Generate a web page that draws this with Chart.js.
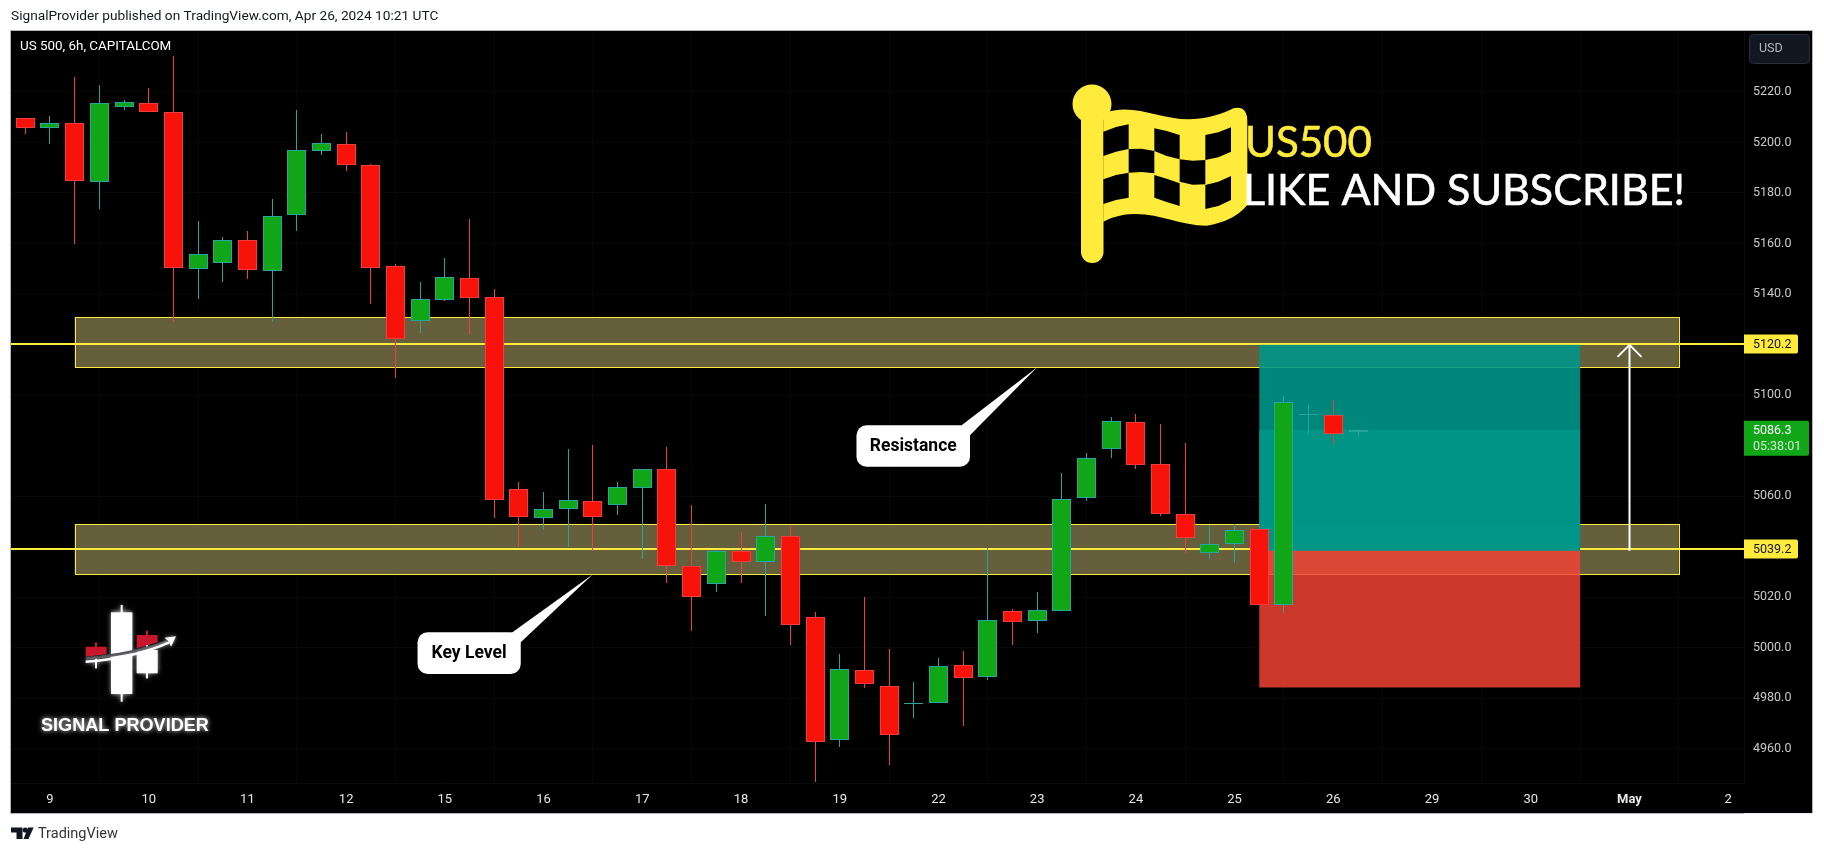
<!DOCTYPE html>
<html>
<head>
<meta charset="utf-8">
<title>US 500, 6h</title>
<script src="https://cdn.jsdelivr.net/npm/chart.js@4"></script>
<style>
  html, body { margin: 0; padding: 0; background: #fff; }
  canvas { display: block; }
</style>
</head>
<body>
<canvas id="chart" width="1824" height="853"></canvas>
<script>
// candles, index 0 = first bar on the left
const opens  = [5209.6,5205.9,5207.6,5184.5,5214.2,5215.5,5212.0,5150.1,5152.1,5161.3,5149.3,5171.1,5196.8,5199.3,5191.0,5151.0,5129.5,5137.8,5146.3,5138.8,
                5062.8,5051.2,5055.1,5058.0,5056.7,5063.4,5070.7,5032.3,5025.2,5038.2,5033.8,5044.2,5012.1,4963.7,4991.1,4984.8,4977.9,4978.0,4993.1,4988.6,
                5014.5,5010.8,5014.4,5059.1,5078.5,5089.3,5072.7,5052.9,5037.7,5040.9,5047.0,5016.8,5092.3,5092.0,5085.4];
const closes = [5205.9,5207.6,5184.9,5215.5,5215.9,5212.2,5150.5,5155.8,5161.3,5149.7,5170.8,5196.9,5199.7,5190.9,5150.5,5122.1,5138.0,5146.7,5138.6,5058.3,
                5051.6,5054.8,5058.4,5051.9,5063.6,5070.7,5032.3,5020.3,5038.2,5033.8,5044.2,5009.2,4962.9,4991.5,4985.5,4965.3,4978.3,4992.7,4988.2,5010.9,
                5010.4,5014.9,5058.8,5075.0,5089.7,5072.5,5053.1,5043.4,5041.0,5046.5,5017.1,5097.2,5092.7,5084.8,5086.3];
const highs  = [5209.8,5210.5,5225.8,5222.8,5216.8,5221.6,5234.3,5169.0,5162.6,5165.0,5177.7,5212.9,5203.4,5204.2,5191.5,5151.8,5144.8,5154.3,5169.7,5142.0,
                5065.7,5061.7,5078.7,5080.3,5065.7,5070.7,5079.5,5056.6,5038.8,5045.9,5057.0,5048.7,5014.2,4997.6,5020.2,4999.6,4986.5,4996.0,4998.8,5039.6,
                5015.4,5022.1,5069.2,5077.2,5091.4,5092.6,5088.6,5081.1,5048.7,5049.1,5048.4,5099.7,5096.1,5097.9,5086.6];
const lows   = [5203.4,5199.4,5159.9,5173.7,5212.9,5212.2,5129.1,5138.1,5144.8,5146.0,5129.1,5165.0,5195.1,5188.7,5136.1,5106.8,5124.6,5137.3,5124.0,5051.4,
                5039.9,5046.7,5039.9,5038.5,5052.6,5035.2,5025.7,5006.7,5022.1,5025.7,5012.6,5001.2,4947.0,4960.8,4984.2,4953.7,4972.3,4978.0,4969.1,4987.3,
                5001.2,5005.9,5014.4,5058.2,5075.2,5070.8,5052.2,5037.6,5035.2,5033.6,5017.1,5013.9,5084.6,5080.5,5083.5];

const dayTicks  = [1,5,9,13,17,21,25,29,33,37,41,45,49,53,57,61,65,69];
const dayLabels = ['9','10','11','12','15','16','17','18','19','22','23','24','25','26','29','30','May','2'];
const priceTicks = [4960,4980,5000,5020,5060,5100,5140,5160,5180,5200,5220];

// drawings on the chart
const zoneResistance = [5130.8, 5111.0];
const zoneKeyLevel   = [5048.9, 5029.1];
const lineResistance = 5120.2;
const lineKeyLevel   = 5039.2;
const lastPrice = 5086.3;
const lastCountdown = '05:38:01';
const positionEntry = 5038.4, positionTarget = 5119.9, positionStop = 4984.3;

const GREEN = '#11a618', TEAL = '#26a69a', RED = '#f7130a', REDLINE = '#f23d3d', YELLOW = '#ffeb3b';
const FONT = 'Roboto, sans-serif';

const up = i => closes[i] >= opens[i];

const roundBars = {
    id: 'roundBars',
    // snap bars to whole pixels so the 1px wicks stay sharp
    afterDatasetsUpdate(chart) {
        chart.data.datasets.forEach((d, n) => {
            chart.getDatasetMeta(n).data.forEach(el => {
                el.x = Math.floor(el.x) + 0.5;
                el.y = Math.round(el.y);
                el.base = Math.round(el.base);
                if (el.base === el.y) el.base = el.y + 1;
            });
        });
    }
};

const background = {
    id: 'background',
    beforeDraw(chart) {
        const c = chart.ctx;
        c.save();
        c.fillStyle = '#000';
        c.fillRect(11, 30, 1801, 783);
        c.fillStyle = '#b4b5bc';
        c.fillRect(10, 30, 1803, 1);
        c.fillRect(10, 30, 1, 784);
        c.fillRect(10, 813, 1734, 1);
        c.fillRect(1812, 30, 1, 784);
        c.fillStyle = '#e9e9f2';
        c.fillRect(1744, 813, 69, 1);
        c.restore();
    }
};

// zones, price lines and the long position box sit behind the candles
const underCandles = {
    id: 'underCandles',
    beforeDatasetsDraw(chart) {
        const c = chart.ctx, x = chart.scales.x, y = chart.scales.y, area = chart.chartArea;
        c.save();
        [zoneResistance, zoneKeyLevel].forEach(z => {
            const l = x.getPixelForValue(2), r = x.getPixelForValue(67);
            const t = Math.round(y.getPixelForValue(z[0])), b = Math.round(y.getPixelForValue(z[1]));
            c.fillStyle = '#655f3b';
            c.fillRect(l, t, r - l, b - t);
            c.strokeStyle = YELLOW;
            c.lineWidth = 1;
            c.strokeRect(Math.round(l) + 0.5, t + 0.5, Math.round(r - l), b - t);
        });
        [lineResistance, lineKeyLevel].forEach(v => {
            c.fillStyle = YELLOW;
            c.fillRect(area.left, Math.round(y.getPixelForValue(v)) - 1, area.right - area.left, 2);
        });
        const l = x.getPixelForValue(50), r = x.getPixelForValue(63);
        const yEntry = y.getPixelForValue(positionEntry);
        c.fillStyle = 'rgba(0,150,136,0.9)';
        c.fillRect(l, y.getPixelForValue(positionTarget), r - l, yEntry - y.getPixelForValue(positionTarget));
        c.fillRect(l, y.getPixelForValue(lastPrice), r - l, yEntry - y.getPixelForValue(lastPrice));
        c.fillStyle = 'rgba(244,67,54,0.84)';
        c.fillRect(l, yEntry, r - l, y.getPixelForValue(positionStop) - yEntry);
        c.restore();
    }
};

function callout(c, text, tipX, tipY, left, top, w, h) {
    c.fillStyle = '#fff';
    c.beginPath();
    c.roundRect(left, top, w, h, 10);
    c.fill();
    c.beginPath();
    c.moveTo(tipX, tipY);
    c.lineTo(left + w - 9, top + 0.5);
    c.lineTo(left + w - 12, top + 10);
    c.lineTo(left + w, top + 10);
    c.closePath();
    c.fill();
    c.fillStyle = '#000';
    c.font = 'bold 17.5px ' + FONT;
    c.textAlign = 'center';
    c.textBaseline = 'middle';
    c.fillText(text, left + w / 2, top + h / 2 + 0.5);
    c.textAlign = 'left';
}

function poly(c, pts) {
    c.beginPath();
    pts.forEach((p, i) => i ? c.lineTo(p[0], p[1]) : c.moveTo(p[0], p[1]));
    c.closePath();
    c.fill();
}

function drawFlag(c) {
    const fx = X => 1060 + X / 3, fy = Y => 80 + Y / 3;
    c.fillStyle = YELLOW;
    c.beginPath();
    c.arc(1092, 104, 19.5, 0, Math.PI * 2);
    c.fill();
    c.beginPath();
    c.roundRect(1081, 100, 22.5, 163, 11);
    c.fill();
    c.beginPath();
    c.moveTo(fx(130), fy(100));
    c.bezierCurveTo(fx(220), fy(65), fx(300), fy(120), fx(390), fy(118));
    c.bezierCurveTo(fx(450), fy(116), fx(490), fy(100), fx(520), fy(85));
    c.quadraticCurveTo(fx(562), fy(75), fx(562), fy(125));
    c.lineTo(fx(562), fy(375));
    c.quadraticCurveTo(fx(520), fy(425), fx(440), fy(437));
    c.bezierCurveTo(fx(360), fy(437), fx(300), fy(400), fx(220), fy(402));
    c.bezierCurveTo(fx(180), fy(403), fx(150), fy(415), fx(130), fy(425));
    c.closePath();
    c.fill();
    c.fillStyle = '#000';
    const cells = [
        [[130,155],[168,141],[206,133],[206,207],[168,215],[130,228]],
        [[283,145],[320,153],[359,165],[359,238],[320,228],[283,213]],
        [[436,165],[475,157],[513,142],[513,215],[475,232],[436,240]],
        [[206,207],[245,206],[283,213],[283,280],[245,276],[206,278]],
        [[359,238],[398,242],[436,240],[436,313],[398,314],[359,305]],
        [[130,298],[168,285],[206,278],[206,353],[168,360],[130,372]],
        [[283,285],[320,296],[359,310],[359,378],[320,366],[283,353]],
        [[436,315],[475,305],[513,288],[513,360],[475,378],[436,387]]
    ];
    cells.forEach(cell => poly(c, cell.map(p => [fx(p[0]), fy(p[1])])));
}

function drawLogo(c) {
    const lx = X => 70 + X / 3, ly = Y => 595 + Y / 3;
    const box = (l, t, r, b) => c.fillRect(lx(l), ly(t), (r - l) / 3, (b - t) / 3);
    c.save();
    c.shadowColor = 'rgba(255,255,255,0.8)';
    c.shadowBlur = 5;
    c.fillStyle = '#fff';
    box(152, 30, 158, 320);
    box(123, 52, 187, 297);
    box(228, 150, 234, 250);
    box(200, 165, 263, 235);
    box(75, 190, 81, 220);
    c.shadowBlur = 0;
    c.fillStyle = '#c8172a';
    box(75, 142, 81, 160);
    box(228, 107, 234, 125);
    poly(c, [[lx(47),ly(155)],[lx(110),ly(155)],[lx(110),ly(178)],[lx(47),ly(185)]]);
    poly(c, [[lx(200),ly(120)],[lx(263),ly(120)],[lx(263),ly(142)],[lx(200),ly(160)]]);
    // arrow with its dark underlay
    c.strokeStyle = '#43444a';
    c.lineWidth = 3;
    c.beginPath();
    c.moveTo(lx(47), ly(190));
    c.quadraticCurveTo(lx(190), ly(178), lx(290), ly(140));
    c.stroke();
    c.shadowColor = 'rgba(255,255,255,0.7)';
    c.shadowBlur = 4;
    c.strokeStyle = '#fff';
    c.lineWidth = 2.5;
    c.beginPath();
    c.moveTo(lx(47), ly(200));
    c.quadraticCurveTo(lx(190), ly(190), lx(298), ly(142));
    c.stroke();
    c.fillStyle = '#fff';
    poly(c, [[lx(318),ly(124)],[lx(284),ly(128)],[lx(297),ly(140)],[lx(303),ly(155)]]);
    c.shadowColor = 'rgba(255,255,255,0.9)';
    c.shadowBlur = 5;
    c.font = 'bold 18.1px "Liberation Sans", sans-serif';
    c.textBaseline = 'middle';
    c.fillText('SIGNAL PROVIDER', 41, 726);
    c.restore();
}

function priceTag(c, y, text, bg, w, h) {
    c.fillStyle = bg;
    c.beginPath();
    c.roundRect(1744, y - h / 2, w, h, [0, 2, 2, 0]);
    c.fill();
    c.fillStyle = '#131722';
    c.fillText(text, 1753, y + 0.5);
}

const overlay = {
    id: 'overlay',
    afterDraw(chart) {
        const c = chart.ctx, x = chart.scales.x, y = chart.scales.y;
        c.save();

        // long position arrow
        const ax = Math.floor(x.getPixelForValue(65)) + 0.5;
        const aTop = y.getPixelForValue(positionTarget), aBottom = y.getPixelForValue(positionEntry);
        c.strokeStyle = '#fff';
        c.lineWidth = 2;
        c.beginPath();
        c.moveTo(ax, aBottom);
        c.lineTo(ax, aTop);
        c.moveTo(ax - 12, aTop + 12);
        c.lineTo(ax, aTop);
        c.lineTo(ax + 12, aTop + 12);
        c.stroke();

        const tipKX = x.getPixelForValue(23), tipKY = y.getPixelForValue(zoneKeyLevel[1]);
        callout(c, 'Key Level', tipKX, tipKY, tipKX - 175.4, tipKY + 58, 103.2, 41.7);
        const tipRX = x.getPixelForValue(41), tipRY = y.getPixelForValue(zoneResistance[1]);
        callout(c, 'Resistance', tipRX, tipRY, tipRX - 180.7, tipRY + 58, 113.5, 41.4);

        drawFlag(c);
        c.textBaseline = 'alphabetic';
        c.lineWidth = 0.6;
        c.fillStyle = YELLOW;
        c.strokeStyle = YELLOW;
        c.font = '42px Lato, sans-serif';
        c.fillText('US500', 1245, 157);
        c.strokeText('US500', 1245, 157);
        c.fillStyle = '#fff';
        c.strokeStyle = '#fff';
        c.font = '43px Lato, sans-serif';
        c.fillText('LIKE AND SUBSCRIBE!', 1243, 205);
        c.strokeText('LIKE AND SUBSCRIBE!', 1243, 205);

        drawLogo(c);

        // texts around the plot
        c.textBaseline = 'middle';
        c.fillStyle = '#131722';
        c.font = '13.7px ' + FONT;
        c.fillText('SignalProvider published on TradingView.com, Apr 26, 2024 10:21 UTC', 11, 17);
        c.fillStyle = '#fff';
        c.font = '13.4px ' + FONT;
        c.fillText('US 500, 6h, CAPITALCOM', 20, 47);

        c.fillStyle = '#131722';
        c.beginPath();
        c.roundRect(1749.5, 34.5, 60, 29, 4);
        c.fill();
        c.strokeStyle = '#2a2e39';
        c.lineWidth = 1;
        c.stroke();
        c.fillStyle = '#b2b5be';
        c.font = '12.5px ' + FONT;
        c.fillText('USD', 1759, 49);

        priceTag(c, Math.round(y.getPixelForValue(lineResistance)), lineResistance.toFixed(1), YELLOW, 54, 19);
        priceTag(c, Math.round(y.getPixelForValue(lineKeyLevel)), lineKeyLevel.toFixed(1), YELLOW, 54, 19);
        const yLast = y.getPixelForValue(lastPrice);
        c.fillStyle = GREEN;
        c.beginPath();
        c.roundRect(1744, yLast - 9, 65, 35, [0, 2, 2, 0]);
        c.fill();
        c.fillStyle = '#fff';
        c.fillText(lastPrice.toFixed(1), 1753, yLast + 1);
        c.fillStyle = '#cfeecf';
        c.fillText(lastCountdown, 1753, yLast + 17);

        // footer logo
        c.fillStyle = '#131722';
        poly(c, [[11,827.5],[22.5,827.5],[22.5,839],[16.5,839],[16.5,832.5],[11,832.5]]);
        c.beginPath();
        c.arc(25.3, 830, 2.6, 0, Math.PI * 2);
        c.fill();
        poly(c, [[28,827.5],[33.6,827.5],[28.5,839],[23.5,839]]);
        c.fillStyle = '#333';
        c.font = '14.5px ' + FONT;
        c.fillText('TradingView', 38, 834);
        c.restore();
    }
};

const wickBars = opens.map((o, i) => ({ x: i, y: [lows[i], highs[i]] }));
const bodyBars = opens.map((o, i) => ({ x: i, y: [o, closes[i]] }));

new Chart(document.getElementById('chart').getContext('2d'), {
    type: 'bar',
    data: {
        datasets: [{
            label: 'wick',
            data: wickBars,
            backgroundColor: opens.map((o, i) => up(i) ? TEAL : REDLINE),
            barThickness: 1,
            borderWidth: 0,
            inflateAmount: 0,
            grouped: false,
            order: 2
        }, {
            label: 'body',
            data: bodyBars,
            backgroundColor: opens.map((o, i) => up(i) ? GREEN : RED),
            borderColor: opens.map((o, i) => up(i) ? TEAL : REDLINE),
            barThickness: 19,
            borderWidth: 1,
            borderSkipped: false,
            inflateAmount: 0,
            grouped: false,
            order: 1
        }]
    },
    options: {
        responsive: false,
        animation: false,
        devicePixelRatio: 1,
        layout: { padding: { left: 11, top: 31, right: 11, bottom: 40 } },
        plugins: { legend: { display: false }, tooltip: { enabled: false } },
        scales: {
            x: {
                type: 'linear',
                offset: false,
                min: -0.58,
                max: 69.64,
                afterBuildTicks: s => { s.ticks = dayTicks.map(v => ({ value: v })); },
                afterFit: s => { s.height = 30; },
                grid: { color: '#080808', drawTicks: false },
                border: { color: '#0c0c0c' },
                ticks: {
                    autoSkip: false,
                    maxRotation: 0,
                    padding: 9,
                    color: '#e6e6e6',
                    font: ctx => ({ family: 'Roboto, sans-serif', size: 13, weight: ctx.tick && ctx.tick.value === 65 ? 'bold' : 'normal' }),
                    callback: v => dayLabels[dayTicks.indexOf(v)]
                }
            },
            y: {
                position: 'right',
                min: 4946.5,
                max: 5244.1,
                afterBuildTicks: s => { s.ticks = priceTicks.map(v => ({ value: v })); },
                afterFit: s => { s.width = 69; },
                grid: { color: '#080808', drawTicks: false },
                border: { color: '#0c0c0c' },
                ticks: {
                    padding: 9,
                    color: '#c8c8c8',
                    font: { family: 'Roboto, sans-serif', size: 12.5 },
                    callback: v => v.toFixed(1)
                }
            }
        }
    },
    plugins: [background, roundBars, underCandles, overlay]
});
</script>
</body>
</html>
